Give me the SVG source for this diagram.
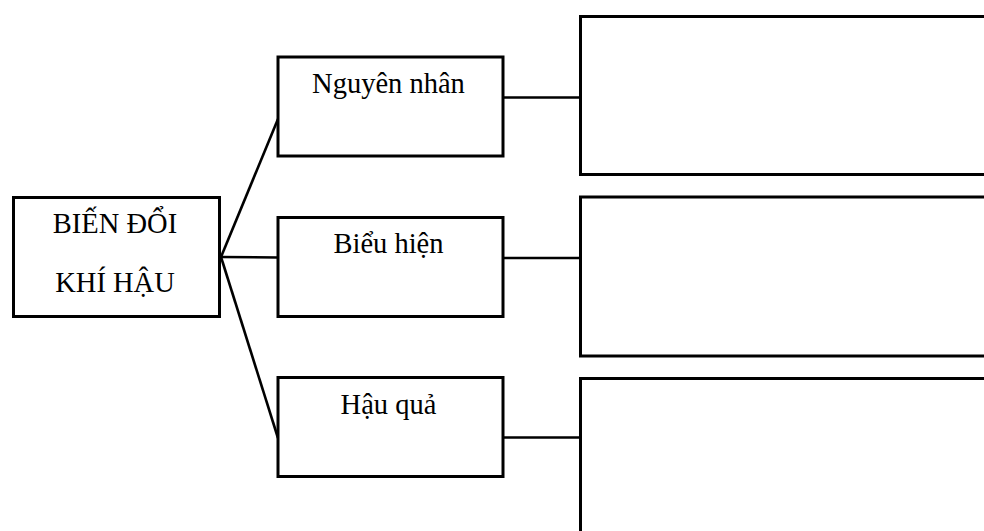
<svg xmlns="http://www.w3.org/2000/svg" width="984" height="531" viewBox="0 0 984 531">
  <style>
    .box { fill: #ffffff; stroke: #000000; stroke-width: 3; }
    .link { fill: none; stroke: #000000; stroke-width: 2.6; }
    .label { font-family: "Liberation Serif", "Times New Roman", serif; font-size: 28.5px; fill: #000000; text-anchor: middle; }
  </style>
  <rect width="984" height="531" fill="#ffffff"/>

  <g id="connectors">
    <line class="link" x1="221" y1="257" x2="278" y2="119"/>
    <line class="link" x1="221" y1="257" x2="278" y2="257.5"/>
    <line class="link" x1="221" y1="257" x2="278" y2="438"/>
    <line class="link" x1="503" y1="97.5" x2="580" y2="97.5"/>
    <line class="link" x1="503" y1="258" x2="580" y2="258"/>
    <line class="link" x1="503" y1="437.5" x2="580" y2="437.5"/>
  </g>

  <g id="climate-change">
    <rect class="box" x="13.5" y="197.5" width="206" height="119"/>
    <text class="label" x="115" y="233">BIẾN ĐỔI</text>
    <text class="label" x="115" y="292">KHÍ HẬU</text>
  </g>

  <g id="causes">
    <rect class="box" x="278" y="57" width="225" height="99"/>
    <text class="label" x="388.5" y="93">Nguyên nhân</text>
  </g>

  <g id="signs">
    <rect class="box" x="278" y="217.5" width="225" height="99"/>
    <text class="label" x="388.5" y="253">Biểu hiện</text>
  </g>

  <g id="effects">
    <rect class="box" x="278" y="377.5" width="225" height="99"/>
    <text class="label" x="388.5" y="414">Hậu quả</text>
  </g>

  <g id="causes-answer">
    <rect class="box" x="580.5" y="16.5" width="420" height="158"/>
  </g>

  <g id="signs-answer">
    <rect class="box" x="580.5" y="197" width="420" height="159"/>
  </g>

  <g id="effects-answer">
    <rect class="box" x="580.5" y="378.5" width="420" height="200"/>
  </g>
</svg>
